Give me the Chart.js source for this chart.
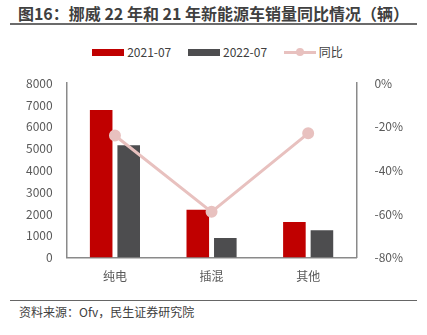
<!DOCTYPE html>
<html>
<head>
<meta charset="utf-8">
<script src="https://cdn.jsdelivr.net/npm/chart.js@4.4.1/dist/chart.umd.min.js"></script>
<style>
  html, body { margin: 0; padding: 0; background: #fff; }
  body { width: 427px; height: 335px; position: relative; overflow: hidden;
         font-family: "Noto Sans CJK SC", "Noto Sans", sans-serif; }
  #title { position: absolute; left: 10px; top: 2px; width: 407px; height: 21px;
           border-bottom: 2px solid #6b6b6b; text-align: center;
           font-size: 16px; font-weight: bold; color: #404040; line-height: 22px; }
  #legend { position: absolute; left: 4px; top: 43px; width: 427px; text-align: center;
            font-size: 12px; color: #404040; line-height: 18px; white-space: nowrap; }
  #legend span.item { display: inline-block; margin: 0 7px; }
  #legend i { display: inline-block; vertical-align: middle; margin-right: 3px; position: relative; top: -1px; }
  .box { width: 32px; height: 7px; }
  .ln { width: 32px; height: 3px; background: #E8C1BF; }
  .ln b { position: absolute; left: 12px; top: -3px; width: 8px; height: 8px; border-radius: 50%; background: #E8C1BF; }
  #wrap { position: absolute; left: 0; top: 66px; width: 427px; height: 222px; }
  #source { position: absolute; left: 10px; top: 300px; width: 407px; border-top: 1.5px solid #666;
            font-size: 12px; color: #404040; padding-left: 9px; box-sizing: border-box; line-height: 22px; }
</style>
</head>
<body>
<div id="title">图16：挪威 22 年和 21 年新能源车销量同比情况（辆）</div>
<div id="legend">
  <span class="item"><i class="box" style="background:#C00000"></i>2021-07</span>
  <span class="item"><i class="box" style="background:#4D4D4F"></i>2022-07</span>
  <span class="item"><i class="ln"><b></b></i>同比</span>
</div>
<div id="wrap"><canvas id="chart"></canvas></div>
<div id="source">资料来源：Ofv，民生证券研究院</div>

<script>
// 分类与数据
const categories = ['纯电', '插混', '其他'];
const sales2021 = [6770, 2190, 1630];
const sales2022 = [5150, 900, 1260];
const yoy = [-0.24, -0.59, -0.23];

const axisColor = '#8a8a8a';
const tickFont = { family: '"Noto Sans CJK SC", "Noto Sans", sans-serif', size: 12 };

const ctx = document.getElementById('chart').getContext('2d');

new Chart(ctx, {
    data: {
        labels: categories,
        datasets: [
            {
                type: 'line',
                label: '同比',
                data: yoy,
                yAxisID: 'y1',
                borderColor: '#E8C1BF',
                backgroundColor: '#E8C1BF',
                borderWidth: 3,
                pointRadius: 4.5,
                pointHoverRadius: 4.5,
                order: 0
            },
            {
                type: 'bar',
                label: '2021-07',
                data: sales2021,
                backgroundColor: '#C00000',
                yAxisID: 'y',
                categoryPercentage: 0.57,
                barPercentage: 0.82,
                order: 1
            },
            {
                type: 'bar',
                label: '2022-07',
                data: sales2022,
                backgroundColor: '#4D4D4F',
                yAxisID: 'y',
                categoryPercentage: 0.57,
                barPercentage: 0.82,
                order: 1
            }
        ]
    },
    options: {
        responsive: true,
        maintainAspectRatio: false,
        animation: false,
        layout: { padding: { left: 20, right: 14, top: 14, bottom: 0 } },
        plugins: {
            legend: { display: false },
            tooltip: { enabled: false }
        },
        scales: {
            x: {
                grid: { display: false },
                border: { display: true, color: axisColor, width: 1.5 },
                ticks: { color: '#595959', font: tickFont, padding: 4 }
            },
            y: {
                position: 'left',
                min: 0,
                max: 8000,
                grid: { display: false },
                border: { display: true, color: axisColor, width: 1.5 },
                ticks: { stepSize: 1000, color: '#595959', font: tickFont, padding: 6,
                         callback: v => String(v) }
            },
            y1: {
                position: 'right',
                min: -0.8,
                max: 0,
                grid: { display: false },
                border: { display: true, color: axisColor, width: 1.5 },
                ticks: {
                    stepSize: 0.2,
                    color: '#595959',
                    font: tickFont,
                    padding: 10,
                    callback: v => Math.round(v * 100) + '%'
                }
            }
        }
    }
});
</script>
</body>
</html>
